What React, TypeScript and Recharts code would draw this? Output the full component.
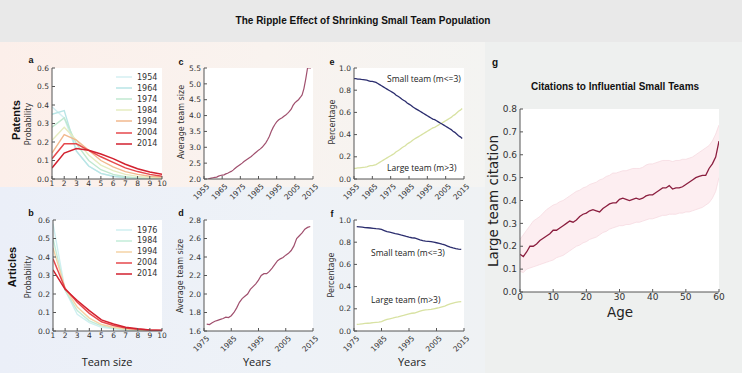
import React from 'react';
import { ComposedChart, Line, Area, XAxis, YAxis } from 'recharts';

// a: patents, team size distribution by year
const teamSizes = [1, 2, 3, 4, 5, 6, 7, 8, 9, 10];
const patentYears = ['1954', '1964', '1974', '1984', '1994', '2004', '2014'];
const patentColors = ['#d4eff2', '#b9e5e6', '#c0e8d0', '#e6ecc0', '#f2b98e', '#e6494c', '#d2212f'];
const patents1954 = [0.39, 0.33, 0.15, 0.07, 0.03, 0.015, 0.007, 0.004, 0.002, 0.001];
const patents1964 = [0.35, 0.37, 0.15, 0.07, 0.03, 0.015, 0.008, 0.004, 0.002, 0.001];
const patents1974 = [0.28, 0.33, 0.19, 0.1, 0.05, 0.025, 0.012, 0.006, 0.003, 0.002];
const patents1984 = [0.21, 0.28, 0.21, 0.13, 0.075, 0.045, 0.025, 0.014, 0.008, 0.005];
const patents1994 = [0.14, 0.24, 0.21, 0.155, 0.1, 0.065, 0.04, 0.025, 0.015, 0.01];
const patents2004 = [0.11, 0.19, 0.19, 0.155, 0.12, 0.09, 0.06, 0.04, 0.025, 0.015];
const patents2014 = [0.06, 0.14, 0.165, 0.155, 0.135, 0.11, 0.08, 0.055, 0.038, 0.025];
const patentDists = [patents1954, patents1964, patents1974, patents1984, patents1994, patents2004, patents2014];

// b: articles, team size distribution by year
const articleYears = ['1976', '1984', '1994', '2004', '2014'];
const articleColors = ['#cfeff1', '#c3ecd8', '#f4d3a6', '#e6494c', '#d2212f'];
const articles1976 = [0.58, 0.22, 0.09, 0.045, 0.02, 0.012, 0.006, 0.003, 0.002, 0.001];
const articles1984 = [0.5, 0.22, 0.11, 0.055, 0.028, 0.014, 0.008, 0.004, 0.002, 0.001];
const articles1994 = [0.45, 0.23, 0.13, 0.07, 0.035, 0.02, 0.011, 0.006, 0.003, 0.002];
const articles2004 = [0.39, 0.23, 0.155, 0.095, 0.05, 0.03, 0.016, 0.009, 0.005, 0.003];
const articles2014 = [0.33, 0.225, 0.165, 0.11, 0.06, 0.038, 0.02, 0.012, 0.006, 0.004];
const articleDists = [articles1976, articles1984, articles1994, articles2004, articles2014];

// c: patents average team size, 1957-2014
const patentAvgStart = 1957;
const patentAvg = [
  2.0, 2.01, 2.03, 2.04, 2.05, 2.06, 2.09, 2.11, 2.12, 2.13, 2.16, 2.18, 2.21, 2.24, 2.28, 2.33,
  2.38, 2.42, 2.46, 2.5, 2.55, 2.59, 2.63, 2.67, 2.71, 2.76, 2.81, 2.86, 2.91, 2.95, 3.0, 3.07,
  3.14, 3.24, 3.35, 3.5, 3.62, 3.72, 3.8, 3.86, 3.9, 3.93, 3.98, 4.02, 4.07, 4.13, 4.2, 4.32,
  4.4, 4.45, 4.5, 4.57, 4.65, 4.85, 5.15, 5.5, 5.52, 5.5,
];

// d: articles average team size, 1976-2014
const articleAvgStart = 1976;
const articleAvg = [
  1.675, 1.67, 1.69, 1.705, 1.715, 1.725, 1.735, 1.75, 1.745, 1.765, 1.8, 1.85, 1.91, 1.95, 1.975,
  2.0, 2.05, 2.08, 2.11, 2.15, 2.2, 2.22, 2.22, 2.245, 2.28, 2.32, 2.36, 2.38, 2.395, 2.42, 2.44,
  2.47, 2.52, 2.6, 2.63, 2.66, 2.7, 2.72, 2.73,
];

// e: patents share of small / large teams, 1955-2014
const patentShareStart = 1955;
const patentSmall = [
  0.905, 0.905, 0.9, 0.9, 0.897, 0.895, 0.893, 0.89, 0.885, 0.88, 0.88, 0.875, 0.87, 0.86, 0.85,
  0.84, 0.83, 0.82, 0.81, 0.8, 0.79, 0.78, 0.77, 0.755, 0.745, 0.735, 0.72, 0.71, 0.7, 0.685,
  0.675, 0.665, 0.65, 0.64, 0.63, 0.62, 0.61, 0.6, 0.59, 0.58, 0.57, 0.56, 0.55, 0.54, 0.535,
  0.525, 0.515, 0.505, 0.495, 0.485, 0.475, 0.465, 0.455, 0.445, 0.43, 0.42, 0.405, 0.39, 0.38, 0.365,
];
const patentLarge = [
  0.095, 0.095, 0.1, 0.1, 0.103, 0.105, 0.107, 0.11, 0.115, 0.12, 0.12, 0.125, 0.13, 0.14, 0.15,
  0.16, 0.17, 0.18, 0.19, 0.2, 0.21, 0.22, 0.23, 0.245, 0.255, 0.265, 0.28, 0.29, 0.3, 0.315,
  0.325, 0.335, 0.35, 0.36, 0.37, 0.38, 0.39, 0.4, 0.41, 0.42, 0.43, 0.44, 0.45, 0.46, 0.465,
  0.475, 0.485, 0.495, 0.505, 0.515, 0.525, 0.535, 0.545, 0.555, 0.57, 0.58, 0.595, 0.61, 0.62, 0.635,
];

// f: articles share of small / large teams, 1976-2014
const articleShareStart = 1976;
const articleSmall = [
  0.94, 0.938, 0.935, 0.932, 0.93, 0.928, 0.925, 0.922, 0.92, 0.915, 0.905, 0.895, 0.89, 0.885,
  0.878, 0.872, 0.865, 0.86, 0.852, 0.845, 0.84, 0.838, 0.83, 0.822, 0.815, 0.81, 0.808, 0.805,
  0.8, 0.795, 0.79, 0.782, 0.775, 0.765, 0.755, 0.748, 0.742, 0.738, 0.735,
];
const articleLarge = [
  0.06, 0.062, 0.065, 0.068, 0.07, 0.072, 0.075, 0.078, 0.08, 0.085, 0.095, 0.105, 0.11, 0.115,
  0.122, 0.128, 0.135, 0.14, 0.148, 0.155, 0.16, 0.162, 0.17, 0.178, 0.185, 0.19, 0.192, 0.195,
  0.2, 0.205, 0.21, 0.218, 0.225, 0.235, 0.245, 0.252, 0.258, 0.262, 0.265,
];

// g: large team citation by age, mean and band
const ages = Array.from({ length: 61 }, (_, i) => i);
const citeMean = [
  0.165, 0.155, 0.175, 0.2, 0.2, 0.21, 0.225, 0.235, 0.245, 0.255, 0.27, 0.27, 0.28, 0.29, 0.3,
  0.31, 0.305, 0.315, 0.33, 0.34, 0.345, 0.355, 0.36, 0.355, 0.35, 0.365, 0.375, 0.385, 0.39,
  0.39, 0.405, 0.41, 0.405, 0.4, 0.405, 0.41, 0.405, 0.41, 0.42, 0.425, 0.425, 0.435, 0.445,
  0.455, 0.455, 0.465, 0.45, 0.455, 0.455, 0.46, 0.47, 0.48, 0.49, 0.5, 0.505, 0.51, 0.51, 0.54,
  0.56, 0.59, 0.66,
];
const citeHigh = [
  0.23, 0.25, 0.27, 0.29, 0.31, 0.32, 0.33, 0.345, 0.36, 0.37, 0.38, 0.385, 0.395, 0.4, 0.41,
  0.42, 0.43, 0.44, 0.445, 0.455, 0.46, 0.47, 0.475, 0.48, 0.49, 0.495, 0.505, 0.51, 0.52, 0.52,
  0.525, 0.53, 0.53, 0.535, 0.54, 0.54, 0.54, 0.545, 0.555, 0.56, 0.56, 0.565, 0.57, 0.575, 0.575,
  0.575, 0.57, 0.575, 0.575, 0.58, 0.58, 0.585, 0.59, 0.6, 0.61, 0.62, 0.63, 0.64, 0.66, 0.69, 0.73,
];
const citeLow = [
  0.09, 0.085, 0.1, 0.105, 0.11, 0.115, 0.12, 0.125, 0.13, 0.135, 0.14, 0.15, 0.155, 0.16, 0.17,
  0.18, 0.19, 0.2, 0.205, 0.215, 0.22, 0.23, 0.235, 0.24, 0.25, 0.26, 0.265, 0.275, 0.28, 0.285,
  0.29, 0.29, 0.295, 0.295, 0.3, 0.305, 0.305, 0.31, 0.315, 0.32, 0.32, 0.325, 0.33, 0.335, 0.335,
  0.34, 0.34, 0.34, 0.345, 0.345, 0.35, 0.35, 0.355, 0.36, 0.365, 0.37, 0.38, 0.39, 0.41, 0.44, 0.5,
];

const FONT = 'DejaVu Sans, sans-serif';
const SANS = 'Liberation Sans, Arial, sans-serif';
const OPEN = 'Open Sans, sans-serif';
const AXIS = '#555';

const distRows = (years: string[], dists: number[][]) =>
  teamSizes.map((s, i) => {
    const row: any = { x: s };
    years.forEach((y, k) => (row['y' + y] = dists[k][i]));
    return row;
  });

const seriesRows = (start: number, cols: Record<string, number[]>) => {
  const keys = Object.keys(cols);
  return cols[keys[0]].map((_, i) => {
    const row: any = { x: start + i };
    keys.forEach((k) => (row[k] = cols[k][i]));
    return row;
  });
};

function RotTick(props: any) {
  const { x, y, payload, fs } = props;
  return (
    <g transform={`translate(${x + 4},${y + 4})`}>
      <text transform="rotate(-45)" textAnchor="end" dy="0.35em" fontSize={fs} fill="#333" fontFamily={FONT}>
        {payload.value}
      </text>
    </g>
  );
}

type Box = { x: number; y: number; w: number; h: number };
type Pad = { l: number; r: number; t: number; b: number };
type LineDef = { key: string; color: string; w?: number };

function Panel(props: {
  box: Box; pad: Pad; rows: any[]; lines: LineDef[];
  xDomain: number[]; xTicks: number[]; yDomain: number[]; yTicks: number[];
  yDigits: number; rotated?: boolean; fs: number; band?: string;
}) {
  const { box, pad, rows, lines, xDomain, xTicks, yDomain, yTicks, yDigits, rotated, fs, band } = props;
  const tickStyle = { fontSize: fs, fill: '#333', fontFamily: FONT };
  return (
    <>
      <div style={{ position: 'absolute', left: box.x, top: box.y, width: box.w, height: box.h, background: '#fff' }} />
      <div style={{ position: 'absolute', left: box.x - pad.l, top: box.y - pad.t }}>
        <ComposedChart
          width={box.w + pad.l + pad.r}
          height={box.h + pad.t + pad.b}
          data={rows}
          margin={{ top: pad.t, right: pad.r, bottom: 0, left: 0 }}
        >
          <XAxis xAxisId="b" dataKey="x" type="number" domain={xDomain} ticks={xTicks} interval={0}
            allowDataOverflow height={pad.b} tickSize={-3} tickMargin={5} stroke={AXIS}
            tick={rotated ? <RotTick fs={fs} /> : tickStyle} />
          <XAxis xAxisId="t" orientation="top" dataKey="x" type="number" domain={xDomain} ticks={xTicks}
            interval={0} allowDataOverflow height={0} tickSize={-3} tick={false} stroke={AXIS} />
          <YAxis yAxisId="l" type="number" domain={yDomain} ticks={yTicks} interval={0} allowDataOverflow
            width={pad.l} tickSize={-3} tickMargin={6} stroke={AXIS} tick={tickStyle}
            tickFormatter={(v: number) => v.toFixed(yDigits)} />
          <YAxis yAxisId="r" orientation="right" type="number" domain={yDomain} ticks={yTicks} interval={0}
            allowDataOverflow width={0} tickSize={-3} tick={false} stroke={AXIS} />
          {band && (
            <Area xAxisId="b" yAxisId="l" dataKey={band} type="linear" fill="#fdeef1" fillOpacity={1}
              stroke="#f6dbe1" strokeWidth={0.8} isAnimationActive={false} />
          )}
          {lines.map((l) => (
            <Line key={l.key} xAxisId="b" yAxisId="l" dataKey={l.key} type="linear" stroke={l.color}
              strokeWidth={l.w ?? 1.3} dot={false} isAnimationActive={false} />
          ))}
        </ComposedChart>
      </div>
    </>
  );
}

function Txt(props: { x: number; y: number; text: string; size: number; font?: string; bold?: boolean; rot?: boolean; color?: string; left?: boolean }) {
  const { x, y, text, size, font = FONT, bold, rot, color = '#222', left } = props;
  return (
    <div style={{
      position: 'absolute', left: x, top: y, whiteSpace: 'nowrap', fontSize: size, fontFamily: font,
      fontWeight: bold ? 700 : 400, color, lineHeight: 1,
      transform: `translate(${left ? '0' : '-50%'},-50%)${rot ? ' rotate(-90deg)' : ''}`,
    }}>{text}</div>
  );
}

function LegendBox(props: { x: number; y: number; step: number; years: string[]; colors: string[] }) {
  const { x, y, step, years, colors } = props;
  return (
    <>
      {years.map((yr, i) => (
        <div key={yr} style={{ position: 'absolute', left: x, top: y + i * step - 5, height: 10, display: 'flex', alignItems: 'center' }}>
          <svg width={16} height={10}><line x1={0} x2={16} y1={5} y2={5} stroke={colors[i]} strokeWidth={1.5} /></svg>
          <span style={{ marginLeft: 5, fontSize: 8, fontFamily: FONT, color: '#333' }}>{yr}</span>
        </div>
      ))}
    </>
  );
}

const fracTicks = [0, 0.1, 0.2, 0.3, 0.4, 0.5, 0.6];
const shareTicks = [0, 0.2, 0.4, 0.6, 0.8, 1.0];
const decadesPat = [1955, 1965, 1975, 1985, 1995, 2005, 2015];
const decadesArt = [1975, 1985, 1995, 2005, 2015];

export default function App() {
  const padSmall = { l: 26, r: 8, t: 6, b: 14 };
  const padRot = { l: 26, r: 10, t: 6, b: 30 };
  const patentLines = patentYears.map((y, i) => ({ key: 'y' + y, color: patentColors[i], w: i >= 5 ? 1.5 : 1.4 }));
  const articleLines = articleYears.map((y, i) => ({ key: 'y' + y, color: articleColors[i], w: i >= 3 ? 1.5 : 1.4 }));
  const gRows = ages.map((a, i) => ({ x: a, mean: citeMean[i], band: [citeLow[i], citeHigh[i]] }));

  return (
    <div style={{ position: 'absolute', left: 0, top: 0, width: 742, height: 373, overflow: 'hidden', background: '#eef0ef' }}>
      <div style={{ position: 'absolute', left: 0, top: 0, width: 742, height: 42, background: '#e9e9e9' }} />
      <div style={{ position: 'absolute', left: 0, top: 42, width: 485, height: 145, background: 'linear-gradient(to right, #fcefea, #f9f3ef 55%, #f4f4f2)' }} />
      <div style={{ position: 'absolute', left: 0, top: 187, width: 485, height: 186, background: 'linear-gradient(to right, #ebeff8, #eef2f7 60%, #eff2f4)' }} />

      <Txt x={363} y={21} text="The Ripple Effect of Shrinking Small Team Population" size={10} font={SANS} bold color="#111" />

      <Panel box={{ x: 52, y: 68, w: 110, h: 111 }} pad={padSmall} rows={distRows(patentYears, patentDists)}
        lines={patentLines} xDomain={[1, 10]} xTicks={teamSizes} yDomain={[0, 0.6]} yTicks={fracTicks} yDigits={1} fs={7.5} />
      <Panel box={{ x: 53, y: 220, w: 109, h: 111 }} pad={padSmall} rows={distRows(articleYears, articleDists)}
        lines={articleLines} xDomain={[1, 10]} xTicks={teamSizes} yDomain={[0, 0.6]} yTicks={fracTicks} yDigits={1} fs={7.5} />
      <Panel box={{ x: 204, y: 68, w: 109, h: 111 }} pad={padRot} rows={seriesRows(patentAvgStart, { v: patentAvg })}
        lines={[{ key: 'v', color: '#a0506e', w: 1.2 }]} xDomain={[1955, 2015]} xTicks={decadesPat}
        yDomain={[2, 5.5]} yTicks={[2, 2.5, 3, 3.5, 4, 4.5, 5, 5.5]} yDigits={1} rotated fs={7.5} />
      <Panel box={{ x: 204, y: 220, w: 109, h: 111 }} pad={padRot} rows={seriesRows(articleAvgStart, { v: articleAvg })}
        lines={[{ key: 'v', color: '#a0506e', w: 1.2 }]} xDomain={[1975, 2015]} xTicks={decadesArt}
        yDomain={[1.6, 2.8]} yTicks={[1.6, 1.8, 2.0, 2.2, 2.4, 2.6, 2.8]} yDigits={1} rotated fs={7.5} />
      <Panel box={{ x: 354, y: 68, w: 110, h: 111 }} pad={padRot} rows={seriesRows(patentShareStart, { s: patentSmall, l: patentLarge })}
        lines={[{ key: 'l', color: '#d8e2a2' }, { key: 's', color: '#2b2d6e' }]} xDomain={[1955, 2015]} xTicks={decadesPat}
        yDomain={[0, 1]} yTicks={shareTicks} yDigits={1} rotated fs={7.5} />
      <Panel box={{ x: 354, y: 220, w: 110, h: 111 }} pad={padRot} rows={seriesRows(articleShareStart, { s: articleSmall, l: articleLarge })}
        lines={[{ key: 'l', color: '#d8e2a2' }, { key: 's', color: '#2b2d6e' }]} xDomain={[1975, 2015]} xTicks={decadesArt}
        yDomain={[0, 1]} yTicks={shareTicks} yDigits={1} rotated fs={7.5} />
      <Panel box={{ x: 520, y: 109, w: 199, h: 183 }} pad={{ l: 26, r: 14, t: 6, b: 16 }} rows={gRows}
        lines={[{ key: 'mean', color: '#8b1e3f', w: 1.3 }]} band="band" xDomain={[0, 60]} xTicks={[0, 10, 20, 30, 40, 50, 60]}
        yDomain={[0, 0.8]} yTicks={[0, 0.1, 0.2, 0.3, 0.4, 0.5, 0.6, 0.7, 0.8]} yDigits={1} fs={9} />

      <LegendBox x={116} y={77} step={11.1} years={patentYears} colors={patentColors} />
      <LegendBox x={116} y={230} step={10.9} years={articleYears} colors={articleColors} />

      <Txt x={16} y={120} text="Patents" size={11} font={SANS} bold rot color="#111" />
      <Txt x={12} y={267} text="Articles" size={11} font={SANS} bold rot color="#111" />
      <Txt x={31} y={60} text="a" size={9} font={SANS} bold color="#111" />
      <Txt x={31} y={213} text="b" size={9} font={SANS} bold color="#111" />
      <Txt x={181} y={62} text="c" size={9} font={SANS} bold color="#111" />
      <Txt x={181} y={213} text="d" size={9} font={SANS} bold color="#111" />
      <Txt x={332} y={62} text="e" size={9} font={SANS} bold color="#111" />
      <Txt x={332} y={214} text="f" size={9} font={SANS} bold color="#111" />
      <Txt x={495} y={63} text="g" size={10} font={SANS} bold color="#111" />

      <Txt x={29} y={124} text="Probability" size={8} rot color="#333" />
      <Txt x={29} y={277} text="Probability" size={8} rot color="#333" />
      <Txt x={182} y={122} text="Average team size" size={8} rot color="#333" />
      <Txt x={181} y={276} text="Average team size" size={8} rot color="#333" />
      <Txt x={333} y={122} text="Percentage" size={8} rot color="#333" />
      <Txt x={332} y={275} text="Percentage" size={8} rot color="#333" />
      <Txt x={107} y={361} text="Team size" size={11} font={OPEN} color="#222" />
      <Txt x={257} y={361} text="Years" size={11} font={OPEN} color="#222" />
      <Txt x={412} y={361} text="Years" size={11} font={OPEN} color="#222" />

      <Txt x={387} y={79} text="Small team (m<=3)" size={8.5} font={OPEN} left color="#222" />
      <Txt x={387} y={168} text="Large team (m>3)" size={8.5} font={OPEN} left color="#222" />
      <Txt x={371} y={253} text="Small team (m<=3)" size={8.5} font={OPEN} left color="#222" />
      <Txt x={371} y={300} text="Large team (m>3)" size={8.5} font={OPEN} left color="#222" />

      <Txt x={615} y={87} text="Citations to Influential Small Teams" size={10} font={SANS} bold color="#111" />
      <Txt x={494} y={201} text="Large team citation" size={13.5} rot color="#222" />
      <Txt x={620} y={313} text="Age" size={13.5} color="#222" />
    </div>
  );
}
